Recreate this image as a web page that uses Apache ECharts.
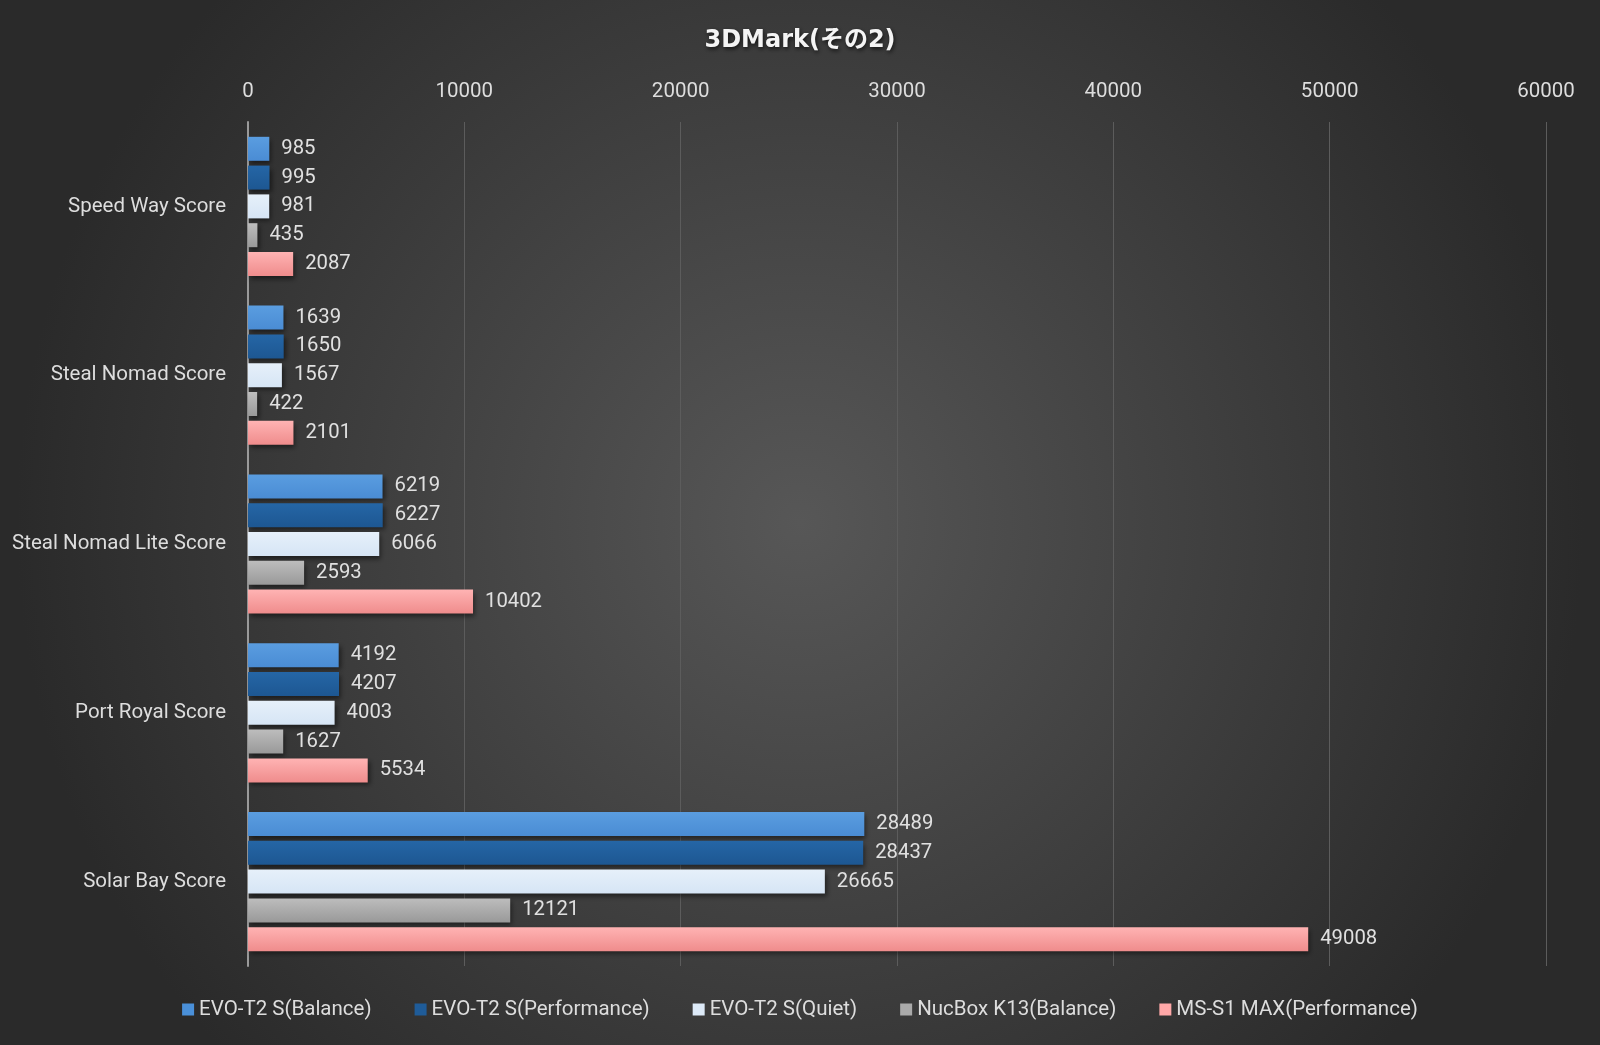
<!DOCTYPE html>
<html><head><meta charset="utf-8">
<script src="https://cdn.jsdelivr.net/npm/echarts@6/dist/echarts.min.js"></script>
<style>html,body{margin:0;padding:0;background:#333;}#c{width:1600px;height:1045px;}</style>
</head><body><div id="c"></div>
<script>
const categories = ['Speed Way Score','Steal Nomad Score','Steal Nomad Lite Score','Port Royal Score','Solar Bay Score'];
const seriesNames = ['EVO-T2 S(Balance)','EVO-T2 S(Performance)','EVO-T2 S(Quiet)','NucBox K13(Balance)','MS-S1 MAX(Performance)'];
const evoBalance = [985,1639,6219,4192,28489];
const evoPerformance = [995,1650,6227,4207,28437];
const evoQuiet = [981,1567,6066,4003,26665];
const nucboxBalance = [435,422,2593,1627,12121];
const msMaxPerformance = [2087,2101,10402,5534,49008];
const xTicks = [0,10000,20000,30000,40000,50000,60000];

const allData = [evoBalance, evoPerformance, evoQuiet, nucboxBalance, msMaxPerformance];
const grads = [
  ['#5a9de0','#4a8cd4'],
  ['#2566a6','#1d5792'],
  ['#e6f0fa','#d6e5f5'],
  ['#bdbdbd','#999999'],
  ['#ffb3b3','#ef8c8c']
];
const legendColors = ['#4a90d9','#1f5c99','#dce9f7','#aaaaaa','#ffa8a8'];

const chart = echarts.init(document.getElementById('c'));
chart.setOption({
  backgroundColor: {
    type:'radial', x:0.5, y:0.5, r:0.75,
    colorStops:[{offset:0,color:'#575757'},{offset:1,color:'#2a2a2a'}]
  },
  title: {
    text: '3DMark(その2)', left: 'center', top: 24,
    textStyle: {color:'#f4f4f4', fontSize:24, fontWeight:'bold', fontFamily:'DejaVu Sans, Noto Sans CJK JP',
      textShadowColor:'rgba(0,0,0,0.7)', textShadowBlur:4, textShadowOffsetX:1, textShadowOffsetY:2}
  },
  legend: {
    bottom: 20, left: 'center', itemWidth: 12, itemHeight: 12, itemGap: 43,
    icon: 'rect',
    textStyle: {color:'#dddddd', fontSize:20.5, fontFamily:'Roboto'},
    data: seriesNames.map((n,i)=>({name:n, itemStyle:{color:legendColors[i]}}))
  },
  grid: {left: 248, right: 54, top: 122, bottom: 79, containLabel:false},
  xAxis: {
    type:'value', position:'top', min:0, max:60000, interval:10000,
    axisLine:{show:false}, axisTick:{show:false},
    axisLabel:{color:'#dddddd', fontSize:20.5, fontFamily:'Roboto', margin:20,
      formatter: v => xTicks.includes(v) ? String(v) : ''},
    splitLine:{show:true, lineStyle:{color:'#5c5c5c', width:1}}
  },
  yAxis: {
    type:'category', data: categories, inverse:true,
    axisLine:{show:true, lineStyle:{color:'#9a9a9a', width:2}},
    axisTick:{show:false},
    axisLabel:{color:'#dddddd', fontSize:20.5, fontFamily:'Roboto', margin:22}
  },
  series: allData.map((d,i)=>({
    name: seriesNames[i], type:'bar', data:d,
    barWidth: 24, barGap:'20%', barCategoryGap:'17%',
    itemStyle:{
      color:{type:'linear',x:0,y:0,x2:0,y2:1,colorStops:[{offset:0,color:grads[i][0]},{offset:1,color:grads[i][1]}]},
      shadowColor:'rgba(0,0,0,0.5)', shadowBlur:5, shadowOffsetX:2, shadowOffsetY:3
    },
    label:{show:true, position:'right', distance:12, color:'#e0e0e0', fontSize:20.3, fontFamily:'Roboto'}
  }))
});
</script></body></html>
